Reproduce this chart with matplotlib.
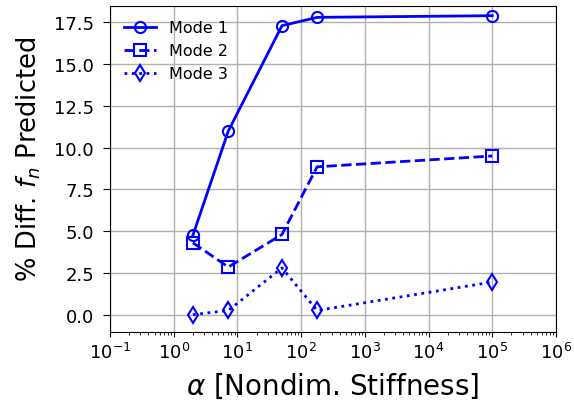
import matplotlib
matplotlib.use("Agg")
import matplotlib.pyplot as plt

alpha = [2, 7.2, 50, 178, 1e5]
mode1 = [4.75, 11.0, 17.3, 17.8, 17.9]
mode2 = [4.3, 2.85, 4.8, 8.85, 9.5]
mode3 = [0.0, 0.25, 2.8, 0.25, 1.95]
labels = ["Mode 1", "Mode 2", "Mode 3"]

fig = plt.figure(figsize=(5.74, 4.02), dpi=100)
W, H = 574, 402
ax = fig.add_axes([110 / W, 1 - 333 / H, (556 - 110) / W, (333 - 7) / H])
ax.plot(alpha, mode1, '-o', color='b', lw=2, ms=8, mfc='none', mew=1.5, label=labels[0])
ax.plot(alpha, mode2, '--s', color='b', lw=2, ms=8, mfc='none', mew=1.5, label=labels[1])
ax.plot(alpha, mode3, ':d', color='b', lw=2, ms=8, mfc='none', mew=1.5, label=labels[2])
ax.set_xscale('log')
ax.set_xlim(1e-1, 1e6)
ax.set_ylim(-1.04, 18.48)
ax.set_yticks([0, 2.5, 5, 7.5, 10, 12.5, 15, 17.5])
ax.grid(True, color='#b0b0b0', lw=1)
ax.set_axisbelow(True)
ax.tick_params(labelsize=13)
ax.tick_params(axis='y', length=5, pad=6.5)
ax.set_xlabel(r'$\alpha$ [Nondim. Stiffness]', fontsize=20, labelpad=6)
ax.set_ylabel(r'% Diff. $f_n$ Predicted', fontsize=18.5)
ax.yaxis.set_label_coords(-0.150, 0.531)
ax.legend(loc='upper left', frameon=False, fontsize=11.5)
fig.savefig('out.png', dpi=100)
